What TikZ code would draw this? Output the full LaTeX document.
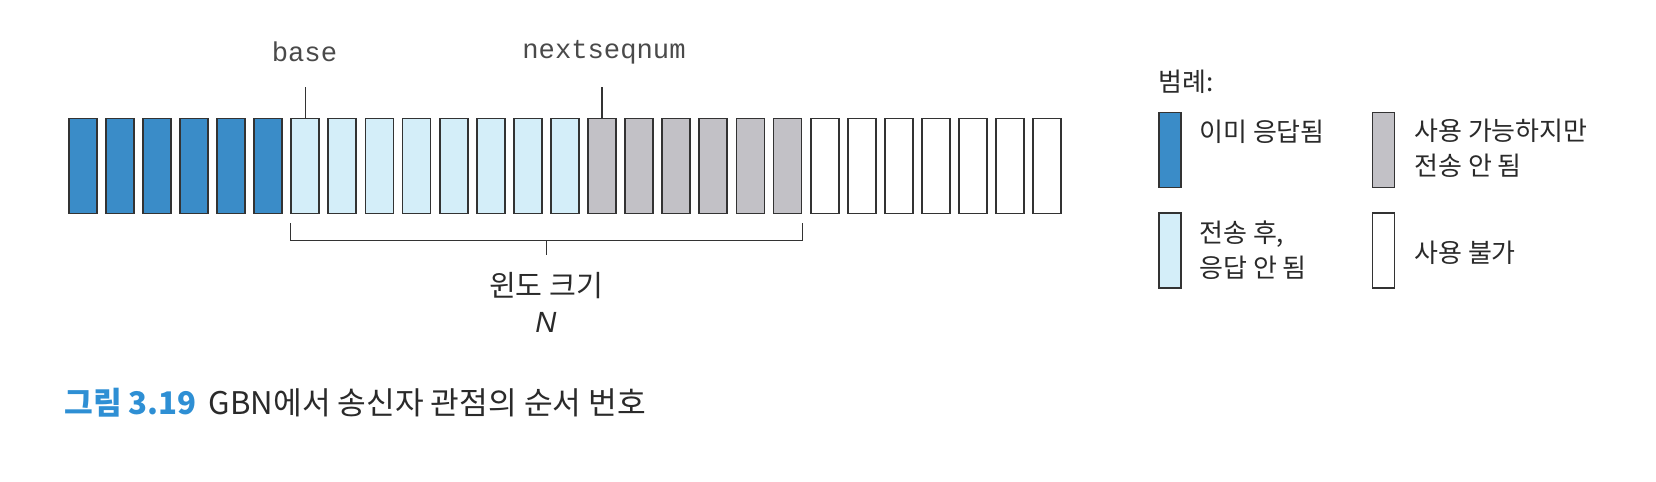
\documentclass[tikz,border=0pt]{standalone}
\usepackage{fontspec}
\setmainfont{Noto Sans CJK KR}
\newfontfamily\kr{Noto Sans CJK KR}
\newfontfamily\mono{Liberation Mono}
\newfontfamily\lat{Liberation Sans}
\usetikzlibrary{calc}
\definecolor{acked}{HTML}{3A8CC8}
\definecolor{sentc}{HTML}{D4EEF9}
\definecolor{usable}{HTML}{C2C1C6}
\definecolor{edgec}{HTML}{333333}
\definecolor{capblue}{HTML}{2E8FD4}
\definecolor{txt}{HTML}{2A2A2A}
\definecolor{monotxt}{HTML}{4A4A4A}
\tikzset{
  slot/.style={draw=edgec, line width=0.9pt, inner sep=0pt, minimum width=14pt, minimum height=47.5pt},
  legslot/.style={draw=edgec, line width=0.9pt, inner sep=0pt, minimum width=11pt, minimum height=37.5pt},
  lbl/.style={font=\mono\fontsize{13.6}{16}\selectfont, text=monotxt, inner sep=0pt},
  kt/.style={font=\kr\fontsize{13}{17.5}\selectfont, text=txt, inner sep=0pt, align=left},
  tick/.style={draw=edgec, line width=0.6pt}
}
\begin{document}
\begin{tikzpicture}[x=0.5pt,y=-0.5pt]
\useasboundingbox (0,0) rectangle (1656,482);
% window slots
\foreach \i in {0,...,5} \node[slot, fill=acked] (b\i) at ({82.6+\i*37.1},166) {};
\foreach \i in {6,...,13} \node[slot, fill=sentc] (b\i) at ({82.6+\i*37.1},166) {};
\foreach \i in {14,...,19} \node[slot, fill=usable] (b\i) at ({82.6+\i*37.1},166) {};
\foreach \i in {20,...,26} \node[slot, fill=white] (b\i) at ({82.6+\i*37.1},166) {};
% pointer labels
\node[lbl] (base) at (304.5,52) {base};
\node[lbl] (nsn) at (604,52) {nextseqnum};
\draw[tick] (b6.north) -- ++(0,-31);
\draw[tick] (b14.north) -- ++(0,-31);
% window bracket
\coordinate (bl) at ($(b6.south west)+(0,9)$);
\coordinate (br) at ($(b19.south east)+(0,9)$);
\draw[tick] (bl) -- ++(0,17) -| (br);
\coordinate (bm) at ($(bl)!0.5!(br)+(0,17)$);
\draw[tick] (bm) -- ++(0,15);
\node[kt, font=\kr\fontsize{14.6}{17}\selectfont] (win) at (546,286) {윈도 크기};
\node[font=\lat\itshape\fontsize{14.6}{17}\selectfont, text=txt, inner sep=0pt] (nn) at (546,322) {N};
% legend
\node[kt, anchor=west] (leg) at (1158,82) {범례:};
\node[legslot, fill=acked] (l1) at (1170,150) {};
\node[legslot, fill=sentc] (l2) at (1170,250.5) {};
\node[legslot, fill=usable] (l3) at (1383.5,150) {};
\node[legslot, fill=white] (l4) at (1383.5,250.5) {};
\node[kt, anchor=west] (t1) at (1199,131.7) {이미 응답됨};
\node[kt, anchor=west] (t2) at (1199,250) {전송 후,\\응답 안 됨};
\node[kt, anchor=west] (t3) at (1414,148.5) {사용 가능하지만\\전송 안 됨};
\node[kt, anchor=west] (t4) at (1414,253) {사용 불가};
% caption
\node[anchor=west, inner sep=0pt, font=\kr\fontsize{15.6}{18}\selectfont, text=txt] (cap) at (64,403)
  {\textcolor{capblue}{\bfseries 그림 3.19}\hspace{6pt}GBN에서 송신자 관점의 순서 번호};
\end{tikzpicture}
\end{document}
